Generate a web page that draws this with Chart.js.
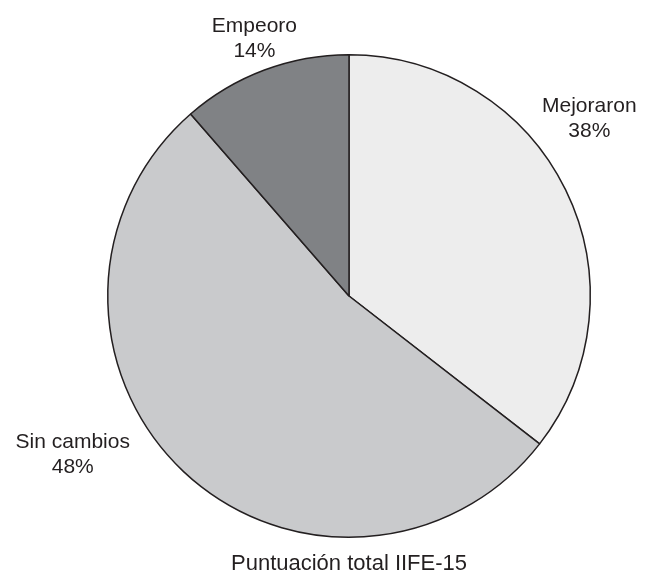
<!DOCTYPE html>
<html>
<head>
<meta charset="utf-8">
<script src="https://cdn.jsdelivr.net/npm/chart.js@4/dist/chart.umd.min.js"></script>
<style>
html,body{margin:0;padding:0;background:#fff;}
#wrap{width:653px;height:571px;position:relative;}
</style>
</head>
<body>
<div id="wrap"><canvas id="c" width="653" height="571"></canvas></div>
<script>
// Categories, in drawing order (clockwise from 12 o'clock)
const categories = ["Mejoraron", "Sin cambios", "Empeoro"];
// Slice sizes as drawn in the picture (percent)
const sliceValues = [35.5, 53.1, 11.4];
// Percent labels as printed in the picture
const percentLabels = ["38%", "48%", "14%"];
const chartTitle = "Puntuación total IIFE-15";

const sliceColors = ["#ededed", "#c9cacc", "#808285"];
const textColor = "#231f20";
const FONT = '21px "Liberation Sans", Arial, sans-serif';
const TITLE_FONT = '22px "Liberation Sans", Arial, sans-serif';

// label placement relative to pie centre, in units of the radius (first baseline)
const labelOffsets = [
  {dx: 0.996, dy: -0.763},
  {dx: -1.145, dy: 0.631},
  {dx: -0.392, dy: -1.095}
];

const labelPlugin = {
  id: 'pieLabels',
  afterDraw(chart) {
    const ctx = chart.ctx;
    const meta = chart.getDatasetMeta(0);
    const arc0 = meta.data[0];
    const cx = arc0.x, cy = arc0.y, r = arc0.outerRadius;
    ctx.save();
    ctx.font = FONT;
    ctx.fillStyle = textColor;
    ctx.textAlign = 'center';
    ctx.textBaseline = 'alphabetic';
    meta.data.forEach((arc, i) => {
      const o = labelOffsets[i];
      const x = cx + o.dx * r;
      const y = cy + o.dy * r;
      ctx.fillText(categories[i], x, y);
      ctx.fillText(percentLabels[i], x, y + 25);
    });
    ctx.font = TITLE_FONT;
    ctx.fillText(chartTitle, cx, cy + r + 33);
    ctx.restore();
  }
};

new Chart(document.getElementById('c'), {
  type: 'pie',
  data: {
    labels: categories,
    datasets: [{
      data: sliceValues,
      backgroundColor: sliceColors,
      borderColor: textColor,
      borderWidth: 1.5,
      borderAlign: 'center'
    }]
  },
  options: {
    responsive: false,
    animation: false,
    rotation: 0,
    layout: { padding: { left: 107, right: 62, top: 54, bottom: 33 } },
    plugins: {
      legend: { display: false },
      tooltip: { enabled: false },
      title: { display: false }
    }
  },
  plugins: [labelPlugin]
});
</script>
</body>
</html>
